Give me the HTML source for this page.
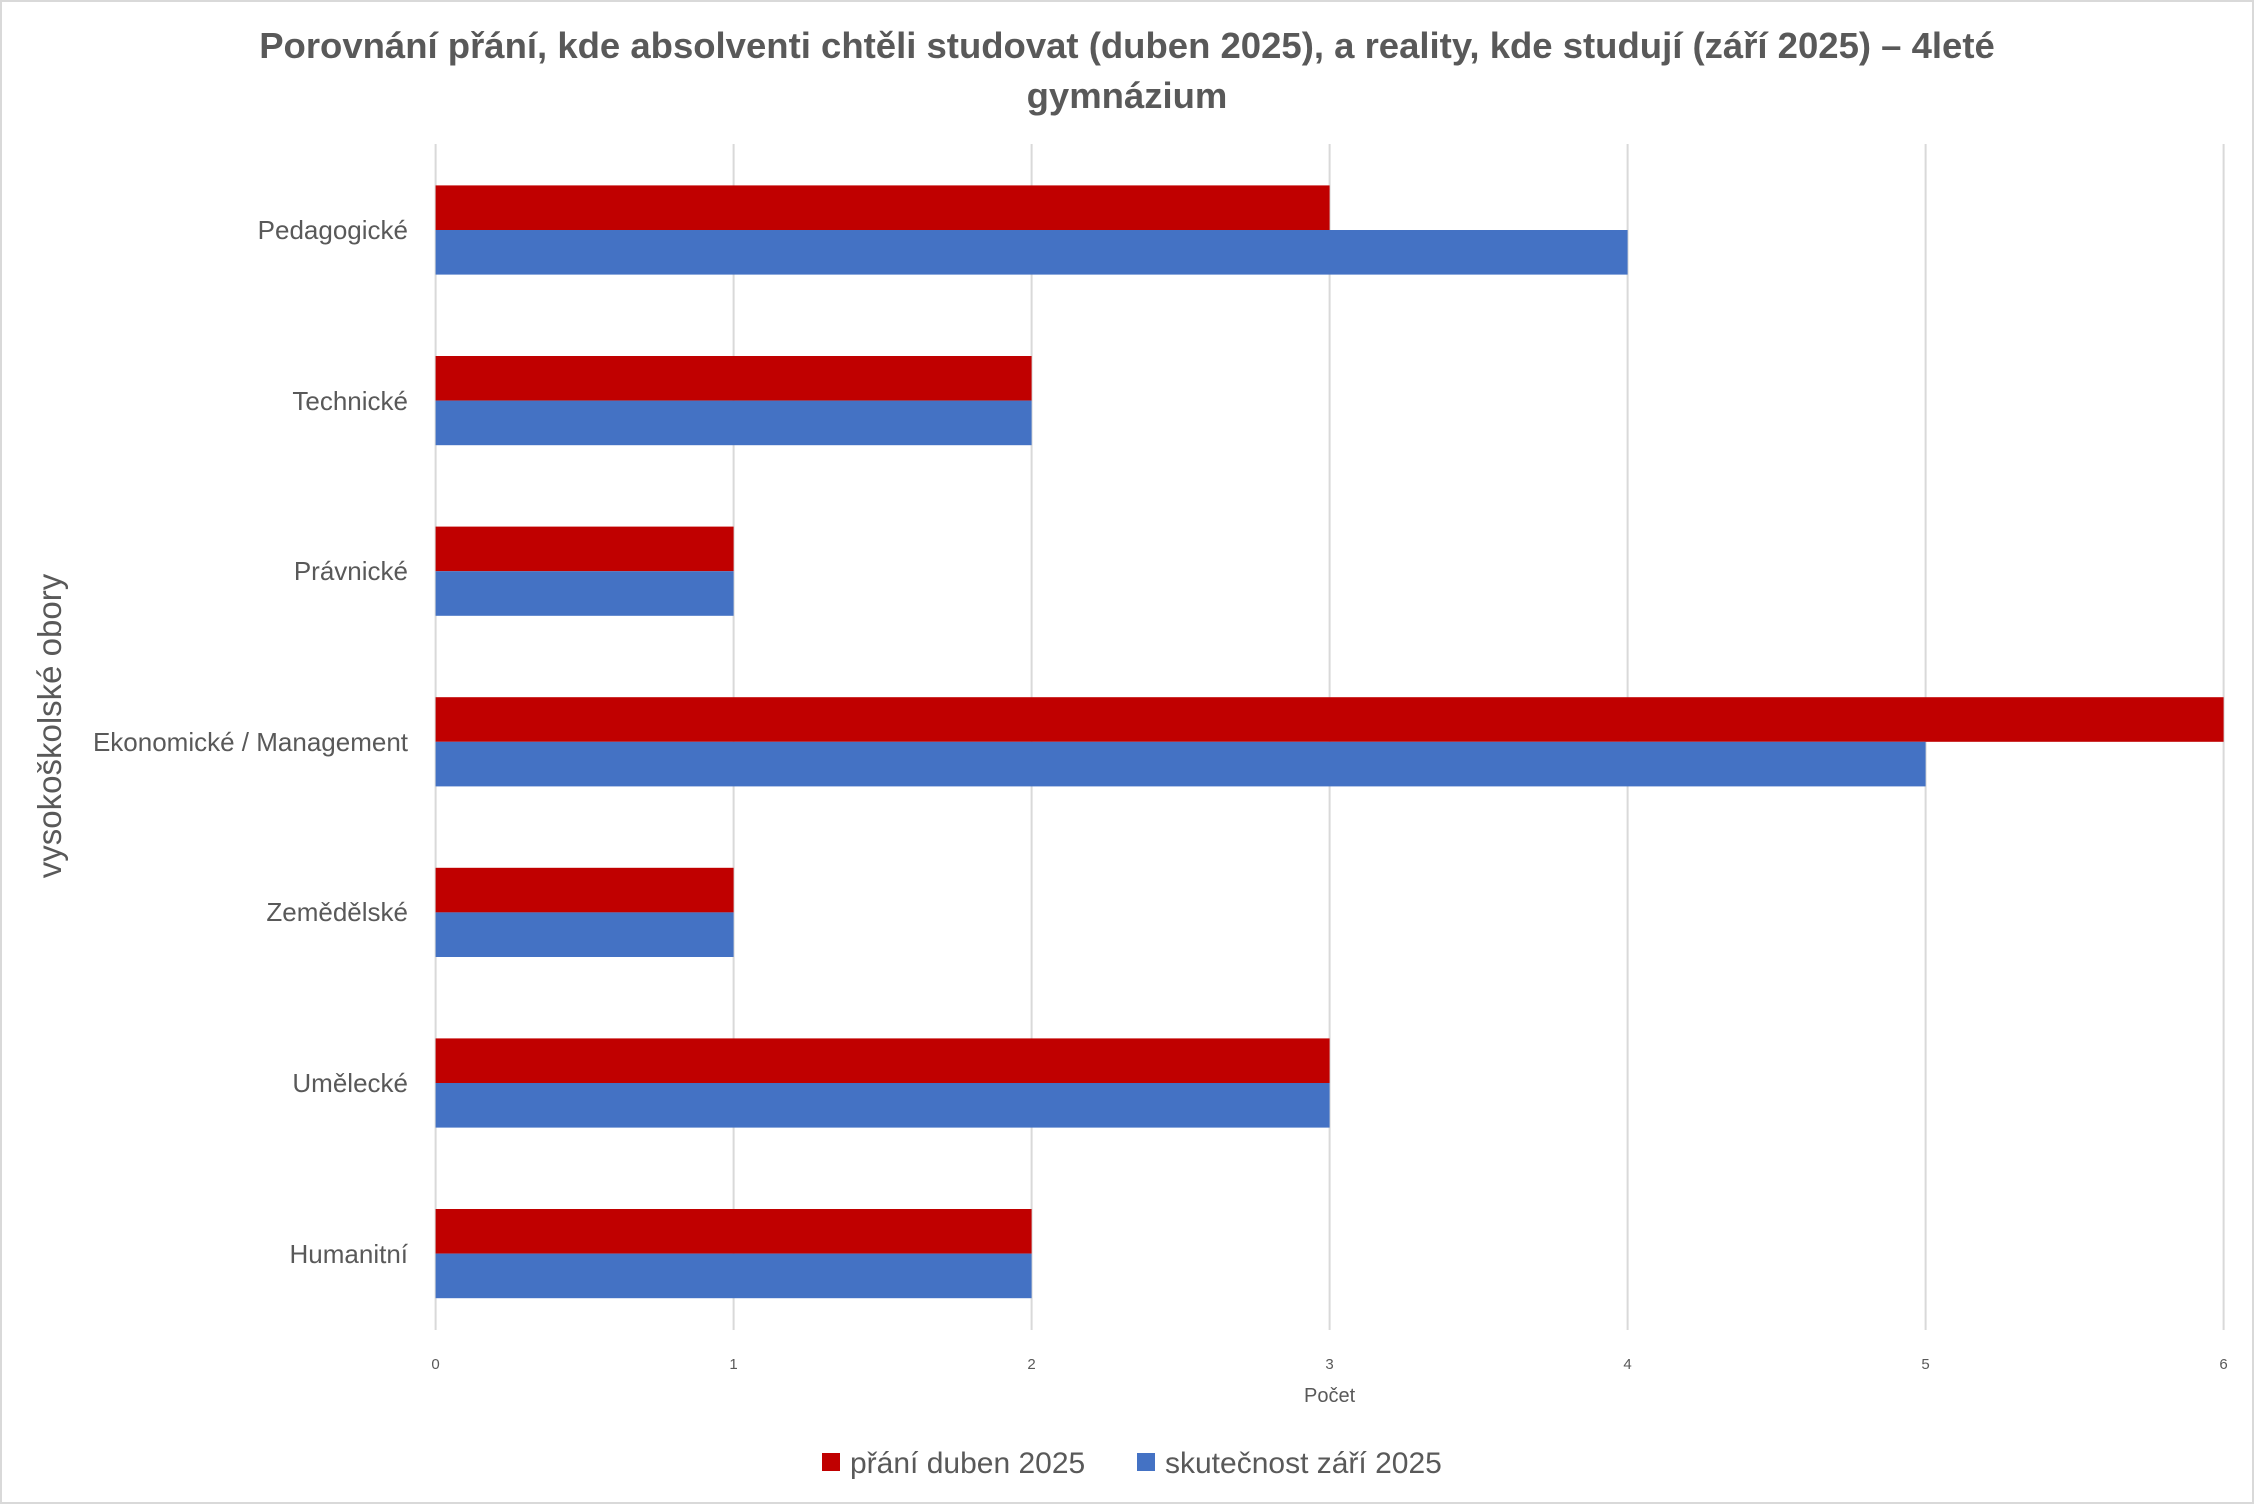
<!DOCTYPE html>
<html><head><meta charset="utf-8"><style>
html,body{margin:0;padding:0;background:#fff;}
svg{display:block;}
text{font-family:"Liberation Sans",sans-serif;}
</style></head><body>
<svg width="2254" height="1504" viewBox="0 0 2254 1504" xmlns="http://www.w3.org/2000/svg">
<rect x="1" y="1" width="2252" height="1502" fill="#fff" stroke="#d9d9d9" stroke-width="2"/>
<text x="1127" y="58" text-anchor="middle" font-size="36.5" font-weight="bold" fill="#595959">Porovnání přání, kde absolventi chtěli studovat (duben 2025), a reality, kde studují (září 2025) – 4leté</text>
<text x="1127" y="108" text-anchor="middle" font-size="36.5" font-weight="bold" fill="#595959">gymnázium</text>
<g stroke="#d9d9d9" stroke-width="2">
<line x1="435.6" y1="144" x2="435.6" y2="1330"/>
<line x1="733.6" y1="144" x2="733.6" y2="1330"/>
<line x1="1031.6" y1="144" x2="1031.6" y2="1330"/>
<line x1="1329.6" y1="144" x2="1329.6" y2="1330"/>
<line x1="1627.6" y1="144" x2="1627.6" y2="1330"/>
<line x1="1925.6" y1="144" x2="1925.6" y2="1330"/>
<line x1="2223.6" y1="144" x2="2223.6" y2="1330"/>
</g>
<g>
<rect x="435.6" y="185.4" width="894" height="44.6" fill="#c00000"/><rect x="435.6" y="230" width="1192" height="44.6" fill="#4472c4"/>
<rect x="435.6" y="356" width="596" height="44.6" fill="#c00000"/><rect x="435.6" y="400.6" width="596" height="44.6" fill="#4472c4"/>
<rect x="435.6" y="526.6" width="298" height="44.6" fill="#c00000"/><rect x="435.6" y="571.2" width="298" height="44.6" fill="#4472c4"/>
<rect x="435.6" y="697.2" width="1788" height="44.6" fill="#c00000"/><rect x="435.6" y="741.8" width="1490" height="44.6" fill="#4472c4"/>
<rect x="435.6" y="867.8" width="298" height="44.6" fill="#c00000"/><rect x="435.6" y="912.4" width="298" height="44.6" fill="#4472c4"/>
<rect x="435.6" y="1038.4" width="894" height="44.6" fill="#c00000"/><rect x="435.6" y="1083" width="894" height="44.6" fill="#4472c4"/>
<rect x="435.6" y="1209" width="596" height="44.6" fill="#c00000"/><rect x="435.6" y="1253.6" width="596" height="44.6" fill="#4472c4"/>
</g>
<g font-size="26" fill="#595959" text-anchor="end">
<text x="408" y="239">Pedagogické</text>
<text x="408" y="410">Technické</text>
<text x="408" y="580">Právnické</text>
<text x="408" y="751">Ekonomické / Management</text>
<text x="408" y="921">Zemědělské</text>
<text x="408" y="1092">Umělecké</text>
<text x="408" y="1263">Humanitní</text>
</g>
<g font-size="15" fill="#595959" text-anchor="middle">
<text x="435.6" y="1369">0</text><text x="733.6" y="1369">1</text><text x="1031.6" y="1369">2</text>
<text x="1329.6" y="1369">3</text><text x="1627.6" y="1369">4</text><text x="1925.6" y="1369">5</text><text x="2223.6" y="1369">6</text>
</g>
<text x="1329.6" y="1402" text-anchor="middle" font-size="20" fill="#595959">Počet</text>
<text transform="translate(61,726) rotate(-90)" text-anchor="middle" font-size="33" fill="#595959">vysokoškolské obory</text>
<rect x="822" y="1453" width="18" height="18" fill="#c00000"/>
<text x="850" y="1473" font-size="30" fill="#595959">přání duben 2025</text>
<rect x="1137" y="1453" width="18" height="18" fill="#4472c4"/>
<text x="1165" y="1473" font-size="30" fill="#595959">skutečnost září 2025</text>
</svg>
</body></html>
